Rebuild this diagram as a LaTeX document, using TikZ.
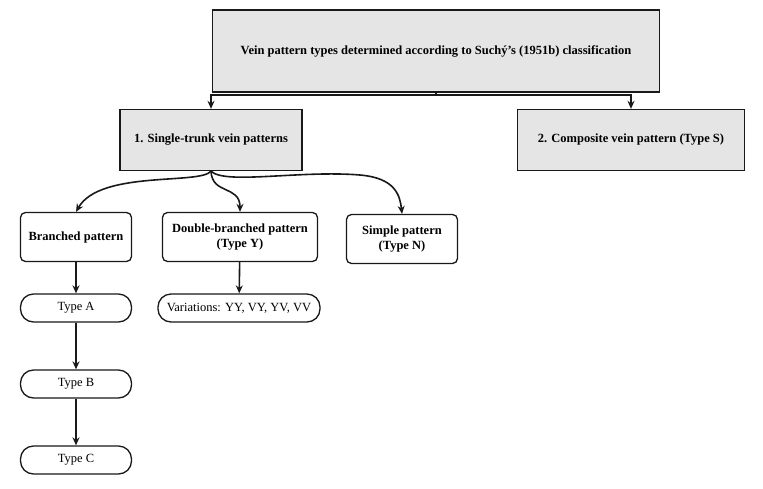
\documentclass[tikz,border=0pt]{standalone}
\usepackage{fontspec}
\setmainfont{Liberation Serif}
\usetikzlibrary{arrows.meta, positioning}
\definecolor{boxGray}{gray}{0.9}
\definecolor{lineBlack}{gray}{0.1}

\begin{document}
\begin{tikzpicture}[x=1pt, y=-1pt, >={Stealth[length=8pt,width=7pt]},
    link/.style={line width=1.6pt, lineBlack},
    head/.style={draw=lineBlack, line width=1.3pt, fill=boxGray, font=\bfseries\fontsize{12.5}{15}\selectfont, align=center},
    kind/.style={draw=lineBlack, line width=1.3pt, rounded corners=5pt, fill=white, font=\bfseries\fontsize{12.5}{15}\selectfont, align=center},
    leaf/.style={draw=lineBlack, line width=1.3pt, rounded corners=13pt, fill=white, font=\fontsize{12.5}{15}\selectfont, minimum height=28pt, inner xsep=2pt}]
    \useasboundingbox (0,0) rectangle (763,488);
    % headings
    \node[head, minimum width=447pt, minimum height=82pt] (root) at (436,51) {Vein pattern types determined according to Suchý's (1951b) classification};
    \node[head, minimum width=182pt, minimum height=61pt] (single) at (211,140) {1. Single-trunk vein patterns};
    \node[head, minimum width=227pt, minimum height=61pt] (comp) at (631,140) {2. Composite vein pattern (Type S)};
    % pattern kinds
    \node[kind, minimum width=111pt, minimum height=49pt] (branched) at (76,237) {Branched pattern};
    \node[kind, minimum width=155pt, minimum height=49pt] (double) at (240,237) {Double-branched pattern\\(Type Y)};
    \node[kind, minimum width=111pt, minimum height=49pt] (simple) at (402,239) {Simple pattern\\(Type N)};
    % types
    \node[leaf, minimum width=111pt] (typeA) at (76,308) {Type A};
    \node[leaf, minimum width=162pt] (vars) at (239,308) {Variations: YY, VY, YV, VV};
    \node[leaf, minimum width=111pt] (typeB) at (76,384) {Type B};
    \node[leaf, minimum width=111pt] (typeC) at (76,460) {Type C};
    % connectors
    \coordinate (split) at (436,95);
    \draw[link] (root.south) -- (split);
    \draw[->, link] (split) -| (single.north);
    \draw[->, link] (split) -| (comp.north);
    \draw[->, link] (single.south) .. controls (200,185) and (100,170) .. (branched.north);
    \draw[->, link] (single.south) .. controls (212,195) and (240,185) .. (double.north);
    \draw[->, link] (single.south) .. controls (225,185) and (300,170) .. (360,175) .. controls (395,178) and (400,195) .. (simple.north);
    \draw[->, link] (branched) -- (typeA);
    \draw[->, link] (double) -- (vars);
    \draw[->, link] (typeA) -- (typeB);
    \draw[->, link] (typeB) -- (typeC);
\end{tikzpicture}
\end{document}
